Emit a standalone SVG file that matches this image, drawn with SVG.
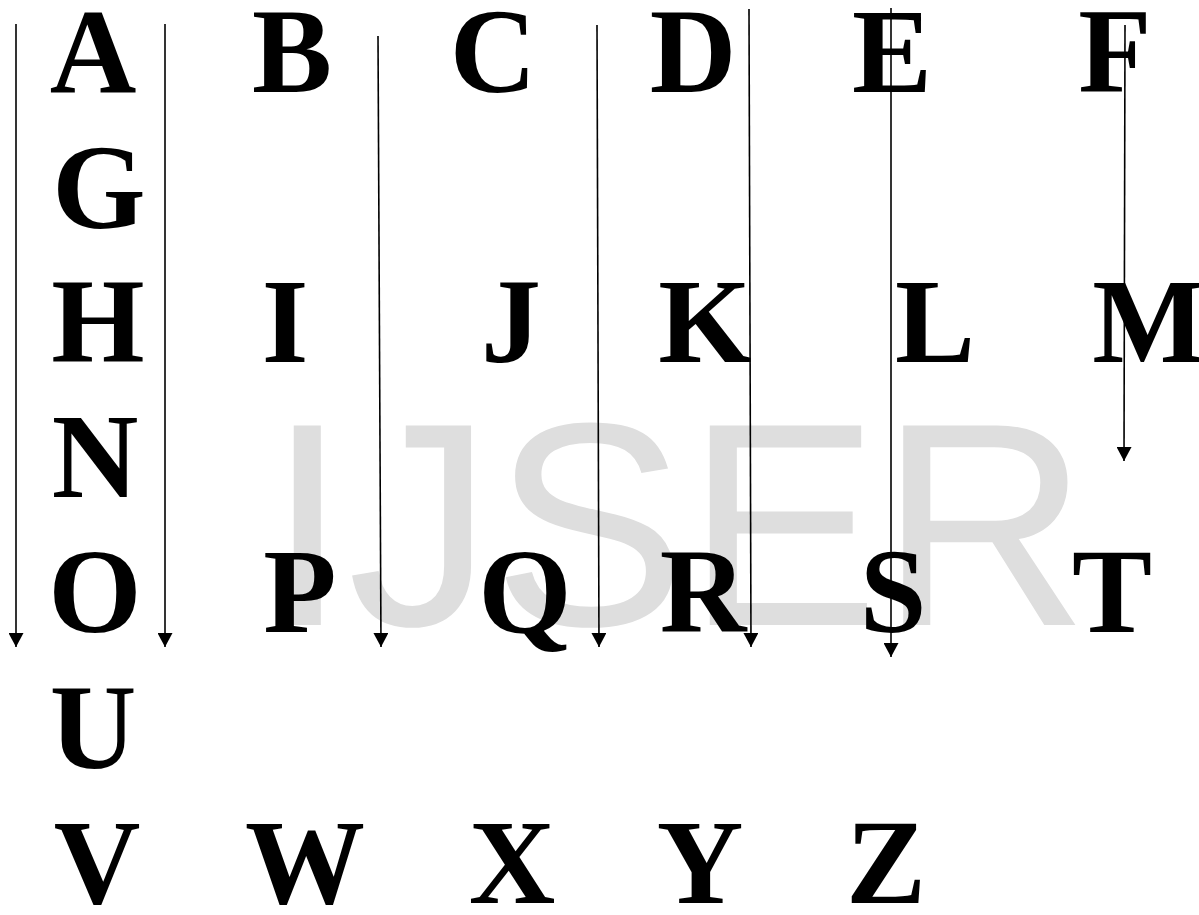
<svg xmlns="http://www.w3.org/2000/svg" width="1199" height="915" viewBox="0 0 1199 915">
<style>
.lt{font-weight:bold;font-size:120px;fill:#000;text-anchor:middle}
.wm{font-size:290px;fill:#dedede}
.ar{stroke:#000;stroke-width:1.6;fill:none;marker-end:url(#ah)}
</style>
<defs>
<marker id="ah" viewBox="0 0 14 15" refX="14" refY="7.5" markerWidth="14" markerHeight="15" markerUnits="userSpaceOnUse" orient="auto">
<path d="M0,0 L14,7.5 L0,15 z" fill="#000"/>
</marker>
</defs>
<rect width="1199" height="915" fill="#fff"/>
<text class="wm" font-family="Liberation Sans, Arial, sans-serif" x="267" y="625">IJSER</text>
<g id="nodes" font-family="Liberation Serif, Times New Roman, serif">
<g id="nA"><text class="lt" x="93" y="92">A</text></g>
<g id="nB"><text class="lt" x="292" y="92">B</text></g>
<g id="nC"><text class="lt" x="493" y="92">C</text></g>
<g id="nD"><text class="lt" x="693" y="92">D</text></g>
<g id="nE"><text class="lt" x="892" y="92">E</text></g>
<g id="nF"><text class="lt" x="1115" y="92">F</text></g>
<g id="nG"><text class="lt" x="99" y="228">G</text></g>
<g id="nH"><text class="lt" x="98" y="362">H</text></g>
<g id="nI"><text class="lt" x="285" y="362">I</text></g>
<g id="nJ"><text class="lt" x="511" y="362">J</text></g>
<g id="nK"><text class="lt" x="705" y="362">K</text></g>
<g id="nL"><text class="lt" x="935" y="362">L</text></g>
<g id="nM"><text class="lt" x="1149" y="362">M</text></g>
<g id="nN"><text class="lt" x="95" y="497">N</text></g>
<g id="nO"><text class="lt" x="95" y="632">O</text></g>
<g id="nP"><text class="lt" x="300" y="632">P</text></g>
<g id="nQ"><text class="lt" x="525" y="632">Q</text></g>
<g id="nR"><text class="lt" x="703" y="632">R</text></g>
<g id="nS"><text class="lt" x="893" y="632">S</text></g>
<g id="nT"><text class="lt" x="1112" y="632">T</text></g>
<g id="nU"><text class="lt" x="93" y="768">U</text></g>
<g id="nV"><text class="lt" x="97" y="903">V</text></g>
<g id="nW"><text class="lt" x="305" y="903">W</text></g>
<g id="nX"><text class="lt" x="512" y="903">X</text></g>
<g id="nY"><text class="lt" x="700" y="903">Y</text></g>
<g id="nZ"><text class="lt" x="886" y="903">Z</text></g>
</g>
<g id="connectors">
<line class="ar" x1="16" y1="24" x2="16" y2="647"/>
<line class="ar" x1="165" y1="24" x2="165" y2="647"/>
<line class="ar" x1="378" y1="36" x2="381" y2="647"/>
<line class="ar" x1="597" y1="25" x2="599" y2="647"/>
<line class="ar" x1="749" y1="9" x2="751" y2="647"/>
<line class="ar" x1="891" y1="8" x2="891" y2="657"/>
<line class="ar" x1="1125" y1="25" x2="1124" y2="461"/>
</g>
</svg>
